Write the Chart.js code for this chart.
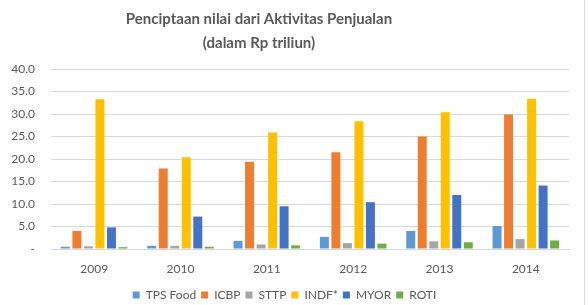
<!DOCTYPE html>
<html><head><meta charset="utf-8">
<script src="https://cdn.jsdelivr.net/npm/chart.js@4"></script>
<style>html,body{margin:0;padding:0;background:#fff}#w{width:584px;height:305px;position:relative;border-right:1px solid #D9D9D9}</style>
</head><body><div id="w"><canvas id="c"></canvas></div>
<script>
const categories = ['2009','2010','2011','2012','2013','2014'];
const tpsFood = [0.5, 0.7, 1.8, 2.7, 4.0, 5.1];
const icbp    = [4.0, 17.9, 19.4, 21.5, 25.0, 29.9];
const sttp    = [0.6, 0.7, 1.0, 1.3, 1.7, 2.2];
const indf    = [33.3, 20.4, 25.9, 28.4, 30.4, 33.4];
const myor    = [4.8, 7.2, 9.5, 10.4, 12.0, 14.1];
const roti    = [0.4, 0.5, 0.8, 1.2, 1.5, 1.9];
const seriesNames = ['TPS Food','ICBP','STTP','INDF*','MYOR','ROTI'];
const titleLines = ['Penciptaan nilai dari Aktivitas Penjualan','(dalam Rp triliun)'];
const colors = ['#5B9BD5','#ED7D31','#A5A5A5','#FFC000','#4472C4','#70AD47'];
const allSeries = [tpsFood, icbp, sttp, indf, myor, roti];
const F = "Lato, 'Open Sans', sans-serif";
const titlePlugin = {
  id: 'ttl',
  afterDraw(chart) {
    const ctx = chart.ctx;
    ctx.save();
    ctx.fillStyle = '#595959';
    ctx.font = "bold 15px " + F;
    ctx.textAlign = 'center';
    ctx.textBaseline = 'middle';
    ctx.fillText(titleLines[0], 259, 19);
    ctx.fillText(titleLines[1], 259, 43);
    ctx.restore();
  }
};
new Chart(document.getElementById('c'), {
  type: 'bar',
  data: {
    labels: categories,
    datasets: allSeries.map((d,i)=>({label: seriesNames[i], data: d, backgroundColor: colors[i], borderWidth: 0}))
  },
  plugins: [titlePlugin],
  options: {
    responsive: true, maintainAspectRatio: false, animation: false,
    layout: {padding: {left: 0, right: 15, top: 69, bottom: -6}},
    datasets: {bar: {categoryPercentage: 0.8, barPercentage: 0.78}},
    plugins: {
      title: {display: false},
      legend: {position: 'bottom', labels: {color: '#595959', font: {family: F, size: 12}, boxWidth: 7, boxHeight: 7, padding: 5}},
      tooltip: {enabled: false}
    },
    scales: {
      x: {grid: {display: false, drawTicks: false}, border: {color: '#D9D9D9'},
          afterFit: s => { s.height = 35; },
          ticks: {color: '#595959', font: {family: F, size: 12}, padding: 13}},
      y: {min: 0, max: 40, afterFit: s => { s.width = 51; },
          ticks: {stepSize: 5, color: '#595959', font: {family: F, size: 12}, padding: 16,
            callback: v => v === 0 ? '-' : v.toFixed(1)},
          grid: {color: '#D9D9D9', drawTicks: false}, border: {display: false}}
    }
  }
});
</script></body></html>
